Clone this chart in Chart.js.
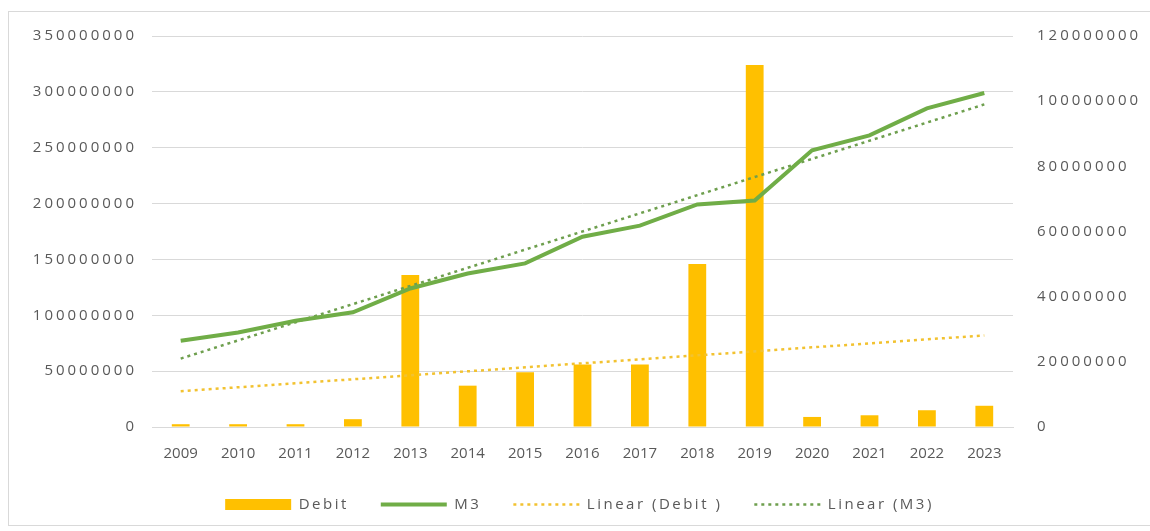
<!DOCTYPE html>
<html>
<head>
<meta charset="utf-8">
<title>Debit and M3, 2009-2023</title>
<script src="https://cdn.jsdelivr.net/npm/chart.js@4.4.1/dist/chart.umd.min.js"></script>
<style>
  html, body { margin: 0; padding: 0; background: #fff; overflow: hidden; }
  .chart-frame {
    position: absolute; left: 8px; top: 11px; width: 1150px; height: 515px;
    border: 1px solid #d9d9d9; box-sizing: border-box;
  }
  .chart-box { position: absolute; left: 9px; top: 12px; width: 1141px; height: 513px; }
</style>
</head>
<body>
<div class="chart-frame"></div>
<div class="chart-box"><canvas id="debitChart"></canvas></div>
<script>
// Yearly series
const years = ['2009', '2010', '2011', '2012', '2013', '2014', '2015', '2016',
               '2017', '2018', '2019', '2020', '2021', '2022', '2023'];
const debit = [2500000, 2500000, 2500000, 7000000, 136000000, 37000000, 49000000, 56000000,
               56000000, 146000000, 324000000, 9000000, 10500000, 15000000, 19000000];
const m3 = [26500000, 29000000, 32600000, 35200000, 42500000, 47100000, 50200000, 58400000,
            61800000, 68300000, 69500000, 84900000, 89500000, 97800000, 102500000];

// Trend lines: value at the first and the last year
const debitTrend = [32000000, 82000000];
const m3Trend = [21000000, 99000000];

// Axis ticks
const leftTicks = [0, 50000000, 100000000, 150000000, 200000000, 250000000, 300000000, 350000000];
const rightTicks = [0, 20000000, 40000000, 60000000, 80000000, 100000000, 120000000];

const GOLD = '#FFC000';
const GREEN = '#70AD47';
const TEXT = '#595959';
const GRID = '#d9d9d9';

// only the end points are set, spanGaps joins them
function endPoints(pair) {
    return years.map((_, i) => i === 0 ? pair[0] : (i === years.length - 1 ? pair[1] : null));
}

// wider letter spacing for the value axes and the legend
function spaced(target, method, spacing) {
    if (!target || target[method].spaced) return;
    const base = target[method];
    const wrapped = function () {
        const ctx = this.ctx;
        const before = ctx.letterSpacing;
        ctx.letterSpacing = spacing;
        const out = base.apply(this, arguments);
        ctx.letterSpacing = before;
        return out;
    };
    wrapped.spaced = true;
    target[method] = wrapped;
}

const spacingPlugin = {
    id: 'spacing',
    beforeLayout(chart) {
        spaced(chart.scales.y, 'drawLabels', '3px');
        spaced(chart.scales.y1, 'drawLabels', '3px');
        spaced(chart.legend, 'fit', '2.5px');
        spaced(chart.legend, 'draw', '2.5px');
    }
};

// fixed axis width, no extra room above/below for the end labels
function valueAxisFit(width) {
    return scale => {
        scale.width = width;
        scale.paddingTop = 0;
        scale.paddingBottom = 0;
    };
}

Chart.defaults.font.family = '"Open Sans", sans-serif';
Chart.defaults.font.size = 15;
Chart.defaults.color = TEXT;

const ctx = document.getElementById('debitChart').getContext('2d');
const debitChart = new Chart(ctx, {
    type: 'bar',
    data: {
        labels: years,
        datasets: [
            {
                type: 'bar',
                label: 'Debit',
                data: debit,
                backgroundColor: GOLD,
                barPercentage: 0.31,
                categoryPercentage: 1,
                yAxisID: 'y',
                order: 3
            },
            {
                type: 'line',
                label: 'M3',
                data: m3,
                borderColor: GREEN,
                borderWidth: 4,
                pointRadius: 0,
                tension: 0,
                yAxisID: 'y1',
                order: 0
            },
            {
                type: 'line',
                label: 'Linear (Debit )',
                data: endPoints(debitTrend),
                borderColor: '#F2C230',
                borderWidth: 2.5,
                borderDash: [3, 4],
                pointRadius: 0,
                spanGaps: true,
                yAxisID: 'y',
                order: 2
            },
            {
                type: 'line',
                label: 'Linear (M3)',
                data: endPoints(m3Trend),
                borderColor: '#6E9F4E',
                borderWidth: 2.5,
                borderDash: [3, 4],
                pointRadius: 0,
                spanGaps: true,
                yAxisID: 'y1',
                order: 1
            }
        ]
    },
    options: {
        responsive: true,
        maintainAspectRatio: false,
        animation: false,
        layout: { padding: { top: 24, left: 0, right: 0, bottom: 3 } },
        plugins: {
            tooltip: { enabled: false },
            legend: {
                position: 'bottom',
                labels: {
                    usePointStyle: true,
                    pointStyleWidth: 66,
                    boxHeight: 11,
                    padding: 32,
                    color: TEXT,
                    generateLabels: chart => chart.data.datasets.map((ds, i) => ({
                        text: ds.label,
                        datasetIndex: i,
                        hidden: false,
                        fillStyle: ds.type === 'bar' ? ds.backgroundColor : 'transparent',
                        strokeStyle: ds.borderColor || ds.backgroundColor,
                        lineWidth: ds.type === 'bar' ? 0 : ds.borderWidth,
                        lineDash: ds.borderDash || [],
                        lineCap: 'butt',
                        pointStyle: ds.type === 'bar' ? 'rect' : 'line',
                        fontColor: TEXT
                    }))
                }
            }
        },
        scales: {
            x: {
                grid: { display: false, drawTicks: false },
                border: { display: true, color: GRID, width: 1 },
                ticks: { padding: 18, maxRotation: 0, autoSkip: false },
                afterFit: scale => { scale.height = 38; }
            },
            y: {
                position: 'left',
                min: 0,
                max: 350000000,
                grid: { color: GRID, drawTicks: false },
                border: { display: false },
                afterBuildTicks: scale => { scale.ticks = leftTicks.map(v => ({ value: v })); },
                afterFit: valueAxisFit(143),
                ticks: { padding: 15, callback: v => String(v) }
            },
            y1: {
                position: 'right',
                min: 0,
                max: 120000000,
                grid: { display: false, drawTicks: false },
                border: { display: false },
                afterBuildTicks: scale => { scale.ticks = rightTicks.map(v => ({ value: v })); },
                afterFit: valueAxisFit(137),
                ticks: { padding: 24, callback: v => String(v) }
            }
        }
    },
    plugins: [spacingPlugin]
});
</script>
</body>
</html>
